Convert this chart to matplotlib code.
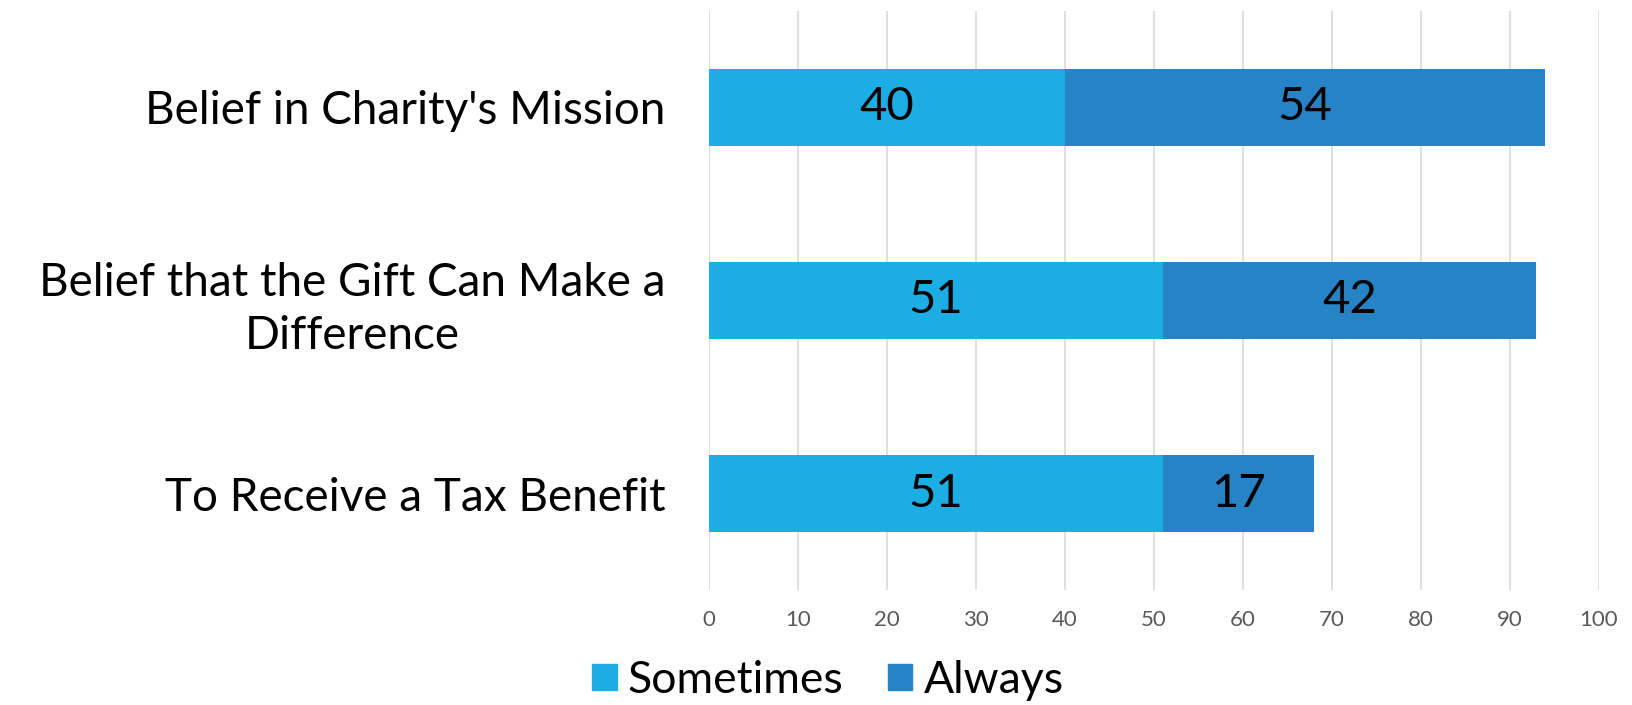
import matplotlib
matplotlib.use("Agg")
import matplotlib.pyplot as plt
from matplotlib.patches import Patch

categories = ["Belief in Charity's Mission",
              "Belief that the Gift Can Make a\nDifference",
              "To Receive a Tax Benefit"]
sometimes = [40, 51, 51]
always = [54, 42, 17]
series_names = ["Sometimes", "Always"]
colors = ["#1CADE4", "#2683C6"]
xticks = list(range(0, 101, 10))

plt.rcParams['font.family'] = ['Lato', 'DejaVu Sans']

fig = plt.figure(figsize=(16.33, 7.05), dpi=100)
ax = fig.add_axes([0.434, 0.163, 0.545, 0.822])

y = list(range(len(categories)))
b1 = ax.barh(y, sometimes, height=0.4, color=colors[0], label=series_names[0], zorder=3)
b2 = ax.barh(y, always, left=sometimes, height=0.4, color=colors[1], label=series_names[1], zorder=3)

for bars in (b1, b2):
    for r in bars:
        w = r.get_width()
        ax.text(r.get_x() + w / 2, r.get_y() + r.get_height() / 2, f"{int(w)}",
                ha='center', va='center', fontsize=34, color='black', zorder=4)

ax.set_ylim(len(categories) - 0.5, -0.5)
ax.set_xlim(0, 100)
ax.set_xticks(xticks)
ax.set_xticklabels([str(t) for t in xticks], fontsize=16, color='#595959')
ax.set_yticks(y)
ax.set_yticklabels(categories, fontsize=33, color='black', multialignment='center',
                   linespacing=1.3)
ax.tick_params(axis='both', length=0)
ax.tick_params(axis='x', pad=14)
ax.tick_params(axis='y', pad=31)
ax.xaxis.grid(True, color='#D9D9D9', linewidth=1.2, zorder=0)
ax.set_axisbelow(True)
for s in ax.spines.values():
    s.set_visible(False)

handles = [Patch(color=colors[0]), Patch(color=colors[1])]
fig.legend(handles, series_names, loc='center', bbox_to_anchor=(0.507, 0.035), ncol=2,
           frameon=False, fontsize=32, handlelength=0.55, handleheight=0.55,
           handletextpad=0.25, columnspacing=1.0)

fig.savefig("out.png", dpi=100)
